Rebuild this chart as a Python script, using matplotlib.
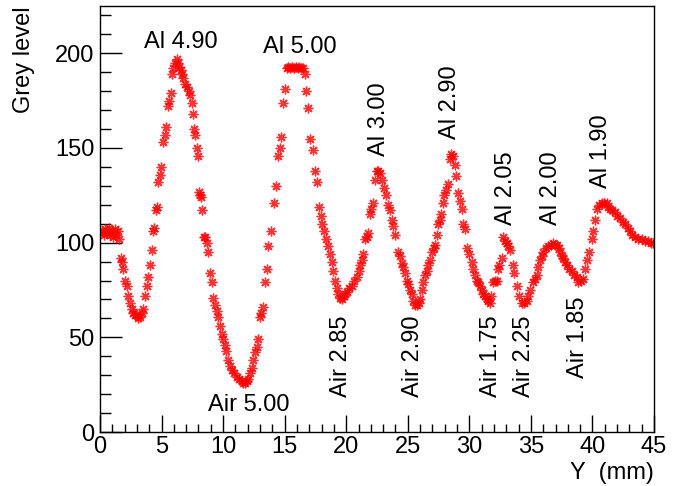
import matplotlib
matplotlib.use('Agg')
import matplotlib.pyplot as plt
import numpy as np

plt.rcParams['font.family'] = ['Liberation Sans', 'DejaVu Sans']

# position along Y (mm) and grey level
y_mm = [0.0, 0.15, 0.3, 0.4, 0.55, 0.7, 0.8, 0.95, 1.05, 1.2, 1.3, 1.45, 1.55,
        1.7, 1.8, 1.9, 2.05, 2.17, 2.3, 2.45, 2.57, 2.7, 2.85, 2.98, 3.1, 3.25,
        3.38, 3.52, 3.66, 3.79, 3.93, 4.06, 4.2, 4.33, 4.41, 4.55, 4.6, 4.74,
        4.85, 4.96, 5.14, 5.25, 5.33, 5.5, 5.6, 5.77, 5.82, 5.95, 6.1, 6.23,
        6.35, 6.45, 6.58, 6.7, 6.77, 6.9, 7.04, 7.2, 7.31, 7.45, 7.53, 7.65,
        7.72, 7.85, 7.99, 8.04, 8.12, 8.21, 8.31, 8.47, 8.53, 8.66, 8.8, 8.94,
        9.07, 9.2, 9.34, 9.47, 9.61, 9.75, 9.88, 10.02, 10.13, 10.24, 10.42,
        10.55, 10.7, 10.9, 11.1, 11.3, 11.51, 11.65, 11.78, 11.92, 12.05, 12.2,
        12.32, 12.45, 12.59, 12.72, 12.86, 13.0, 13.1, 13.21, 13.4, 13.54,
        13.67, 13.89, 14.13, 14.3, 14.49, 14.6, 14.7, 14.84, 15.03, 15.17,
        15.3, 15.45, 15.6, 15.75, 15.9, 16.05, 16.2, 16.35, 16.5, 16.65, 16.73,
        16.87, 17.06, 17.28, 17.47, 17.65, 17.79, 17.93, 18.05, 18.2, 18.36,
        18.5, 18.68, 18.82, 18.95, 19.1, 19.23, 19.35, 19.5, 19.63, 19.8, 19.9,
        20.04, 20.2, 20.45, 20.6, 20.86, 21.0, 21.12, 21.25, 21.39, 21.53,
        21.65, 21.8, 21.93, 22.05, 22.2, 22.35, 22.48, 22.6, 22.75, 22.9, 23.1,
        23.23, 23.4, 23.56, 23.7, 23.83, 23.96, 24.18, 24.37, 24.5, 24.64,
        24.78, 24.9, 25.04, 25.2, 25.32, 25.45, 25.59, 25.75, 25.9, 26.0,
        26.13, 26.25, 26.4, 26.55, 26.67, 26.8, 26.95, 27.1, 27.21, 27.35,
        27.48, 27.6, 27.7, 27.85, 27.97, 28.1, 28.25, 28.4, 28.51, 28.65,
        28.84, 28.95, 29.11, 29.24, 29.38, 29.51, 29.65, 29.84, 30.0, 30.19,
        30.32, 30.46, 30.6, 30.73, 30.85, 31.0, 31.15, 31.27, 31.4, 31.55,
        31.68, 31.8, 31.95, 32.1, 32.22, 32.35, 32.44, 32.63, 32.76, 32.9,
        33.04, 33.17, 33.3, 33.52, 33.65, 33.85, 34.05, 34.25, 34.45, 34.66,
        34.8, 34.93, 35.2, 35.35, 35.48, 35.6, 35.74, 35.9, 36.01, 36.2, 36.42,
        36.6, 36.83, 36.95, 37.09, 37.25, 37.37, 37.5, 37.64, 37.8, 37.91,
        38.1, 38.32, 38.5, 38.72, 38.85, 39.05, 39.26, 39.4, 39.53, 39.7,
        39.94, 40.07, 40.2, 40.34, 40.5, 40.75, 40.95, 41.16, 41.3, 41.43,
        41.6, 41.84, 42.0, 42.24, 42.45, 42.65, 42.85, 43.05, 43.25, 43.46,
        43.7, 44.0, 44.25, 44.5, 44.75, 44.9]
grey = [105, 106, 104, 107, 105, 108, 104, 106, 103, 107, 104, 106, 102,
        92, 90, 86, 80, 77, 72, 68, 65, 63, 62, 62, 60, 61,
        63, 65, 72, 77, 82, 88, 96, 106, 108, 117, 119, 132,
        136, 140, 153, 157, 161, 172, 175, 179, 189, 192, 195, 197,
        195, 193, 191, 189, 187, 184, 182, 180, 178, 174, 168, 160,
        157, 150, 146, 127, 125, 124, 117, 103, 103, 100, 95, 84,
        79, 71, 67, 64, 61, 56, 52, 49, 46, 43, 38,
        35, 33, 31, 29, 28, 27, 26, 26, 27, 28, 31,
        34, 38, 42, 45, 49, 61, 63, 66, 79, 86,
        98, 106, 121, 130, 146, 150, 156, 174, 181, 192,
        193, 192, 193, 192, 193, 192, 193, 192, 192, 189, 180,
        171, 155, 149, 138, 132, 119, 114, 110, 106, 102,
        98, 94, 90, 85, 80, 76, 73, 71, 70, 72, 73,
        74, 76, 77, 80, 82, 85, 88, 91, 94, 102,
        103, 105, 115, 118, 121, 133, 138, 138, 137, 133, 129,
        125, 120, 117, 112, 109, 104, 95, 93, 89, 87,
        84, 80, 78, 75, 73, 69, 67, 67, 68, 70,
        75, 79, 83, 85, 88, 91, 95, 97, 99, 104,
        110, 112, 115, 121, 125, 128, 131, 144, 147, 146,
        141, 135, 126, 122, 118, 110, 107, 97, 94, 90,
        86, 83, 80, 79, 77, 75, 73, 72, 70, 69,
        68, 72, 79, 80, 80, 86, 88, 92, 103, 101,
        100, 98, 96, 88, 84, 77, 72, 68, 68, 69,
        72, 75, 79, 81, 83, 87, 91, 93, 95, 97, 98,
        99, 100, 99, 99, 97, 95, 93, 92, 90, 88,
        86, 85, 83, 82, 79, 80, 81, 86, 91, 95,
        102, 106, 112, 118, 120, 121, 121, 121, 119, 118,
        117, 116, 114, 113, 111, 110, 108, 106, 104, 103,
        102, 102, 101, 101, 100, 100]

# annotations: text, x, y, rotation
labels_h = [('Al 4.90', 3.57, 203), ('Al 5.00', 13.28, 200.4), ('Air 5.00', 8.8, 11.3)]
labels_v = [('Al 3.00', 22.7, 145.7), ('Al 2.90', 28.43, 154.5),
            ('Al 2.05', 32.97, 109.5), ('Al 2.00', 36.62, 109.5),
            ('Al 1.90', 40.68, 128.9),
            ('Air 2.85', 19.56, 18.7), ('Air 2.90', 25.41, 18.7),
            ('Air 1.75', 31.75, 18.7), ('Air 2.25', 34.45, 18.7),
            ('Air 1.85', 38.79, 28.4)]

fs = 17

fig = plt.figure(figsize=(6.84, 4.86), dpi=100)
ax = fig.add_axes([100/684, 54/486, 554/684, 426/486])

ax.plot(y_mm, grey, linestyle='', marker=(8, 2, 0), color='red',
        markersize=7, markeredgewidth=1.0, alpha=0.8)

ax.set_xlim(0, 45)
ax.set_ylim(0, 225)

ax.set_xticks(np.arange(0, 46, 5))
ax.set_xticks(np.arange(0, 46, 1), minor=True)
ax.set_yticks(np.arange(0, 201, 50))
ax.set_yticks(np.arange(0, 226, 10), minor=True)

ax.tick_params(which='both', direction='in', top=False, right=False,
               labelsize=fs, width=1, color='black')
ax.tick_params(axis='x', which='major', length=12, pad=3)
ax.tick_params(axis='x', which='minor', length=6)
ax.tick_params(axis='y', which='major', length=16, pad=4)
ax.tick_params(axis='y', which='minor', length=8)

for s in ax.spines.values():
    s.set_linewidth(1)

ax.text(-0.137, 1.0, 'Grey level', transform=ax.transAxes, rotation=90,
        ha='center', va='top', fontsize=fs)
ax.text(1.0, -0.110, 'Y  (mm)', transform=ax.transAxes,
        ha='right', va='baseline', fontsize=fs)

for t, x, y in labels_h:
    ax.text(x, y, t, ha='left', va='baseline', fontsize=fs)
for t, x, y in labels_v:
    ax.text(x, y, t, rotation=90, ha='center', va='bottom', fontsize=fs)

fig.savefig('out.png', dpi=100)
